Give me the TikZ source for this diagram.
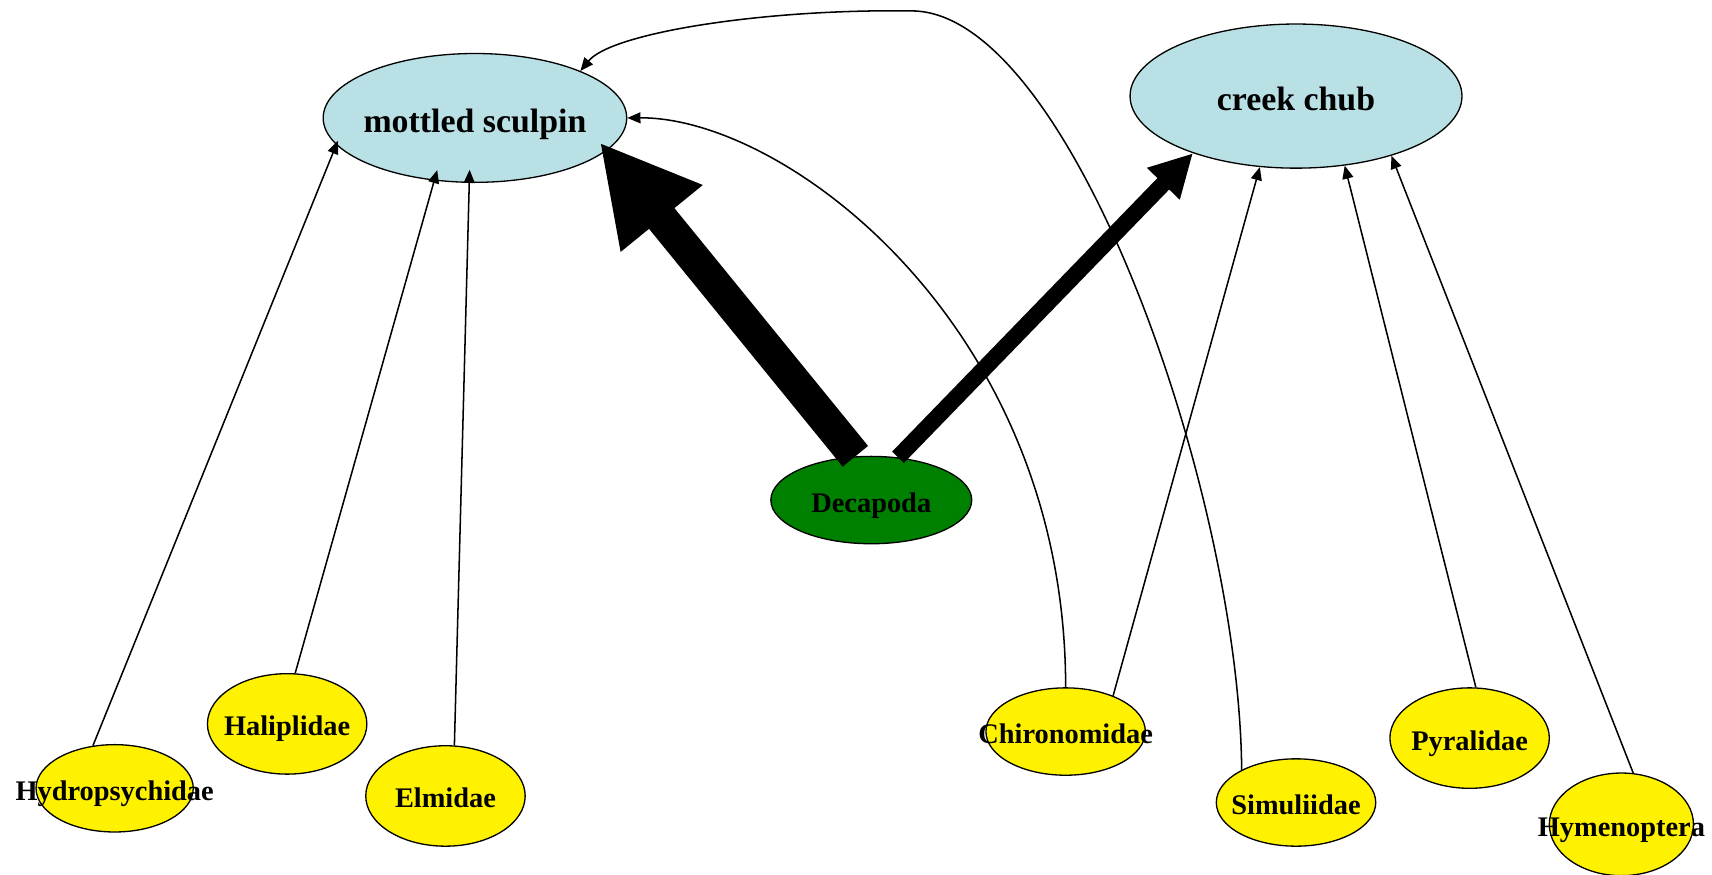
\documentclass[tikz,border=0pt]{standalone}
\usepackage{fontspec}
\setmainfont{Liberation Serif}
\usetikzlibrary{shapes.geometric,arrows.meta}
\definecolor{fishblue}{RGB}{185,224,228}
\definecolor{crayfish}{RGB}{0,128,0}
\begin{document}
\begin{tikzpicture}[x=1pt,y=-1pt,
  taxon/.style={ellipse, draw, line width=1.2pt, inner sep=0pt},
  fish/.style={taxon, fill=fishblue},
  bug/.style={taxon, fill=yellow},
  bigname/.style={font=\fontsize{31}{31}\selectfont\bfseries, inner sep=0pt,
    text height=26pt, text depth=0pt},
  smallname/.style={font=\fontsize{26}{26}\selectfont\bfseries, inner sep=0pt,
    text height=22pt, text depth=0pt},
  feed/.style={-{Triangle[length=12pt,width=10pt]}, line width=1.4pt},
  thickfeed/.style={-{Triangle[length=90pt,width=90pt]}, line width=30pt},
  medfeed/.style={-{Triangle[length=39pt,width=39pt]}, line width=15pt}]
\useasboundingbox (0,0) rectangle (1568,801);
\fill[white] (0,0) rectangle (1568,801);

% predators
\node[fish, minimum width=278pt, minimum height=118pt,
  label={[bigname]center:mottled sculpin}] (ms) at (435,108) {};
\node[fish, minimum width=304pt, minimum height=132pt,
  label={[bigname]center:creek chub}] (cc) at (1187,88) {};

% prey
\node[taxon, fill=crayfish, minimum width=184pt, minimum height=80pt,
  label={[smallname]center:Decapoda}] (dec) at (798,458) {};
\node[bug, minimum width=144pt, minimum height=80pt,
  label={[smallname]center:Hydropsychidae}] (hyd) at (105,722) {};
\node[bug, minimum width=146pt, minimum height=92pt,
  label={[smallname]center:Haliplidae}] (hal) at (263,663) {};
\node[bug, minimum width=146pt, minimum height=92pt,
  label={[smallname]center:Elmidae}] (elm) at (408,729) {};
\node[bug, minimum width=146pt, minimum height=80pt,
  label={[smallname]center:Chironomidae}] (chi) at (976,670) {};
\node[bug, minimum width=146pt, minimum height=80pt,
  label={[smallname]center:Simuliidae}] (sim) at (1187,735) {};
\node[bug, minimum width=146pt, minimum height=92pt,
  label={[smallname]center:Pyralidae}] (pyr) at (1346,676) {};
\node[bug, minimum width=132pt, minimum height=94pt,
  label={[smallname]center:Hymenoptera}] (hym) at (1485,755) {};

% links into mottled sculpin
\draw[feed, shorten >=-4pt] (hyd.117) -- (ms.191);
\draw[feed, shorten >=-10pt] (hal.81) -- (ms.237);
\draw[feed, shorten >=-12pt] (elm.80) -- (ms.265);
\draw[feed] (chi.north) .. controls (976,300) and (720,107) .. (ms.east);
\draw[feed] (sim.149) .. controls (1135,450) and (980,10) .. (835,10)
  .. controls (700,8) and (560,30) .. (ms.24);
\draw[thickfeed, shorten >=-10pt] (dec.110) -- (ms.346);

% links into creek chub
\draw[medfeed] (dec.58) -- (cc.209);
\draw[feed] (chi.37) -- (cc.243);
\draw[feed] (pyr.83) -- (cc.305);
\draw[feed] (hym.77) -- (cc.328);
\end{tikzpicture}
\end{document}
